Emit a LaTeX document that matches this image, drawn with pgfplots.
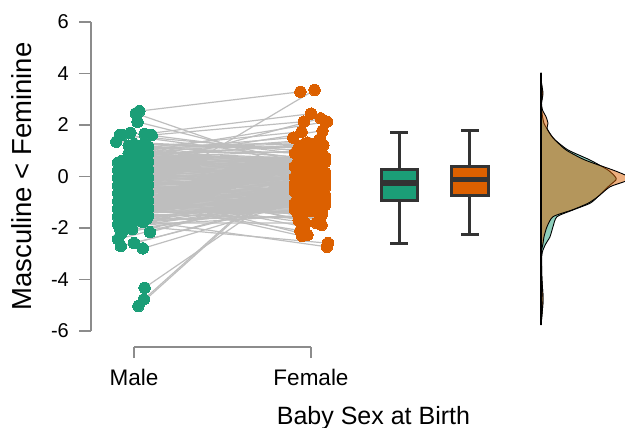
\documentclass[border=0pt]{standalone}
\usepackage{fontspec}
\setmainfont{Liberation Sans}
\usepackage{pgfplots}
\usepackage{pgfplotstable}
\pgfplotsset{compat=1.18}
\usepgfplotslibrary{statistics}
\definecolor{malecol}{HTML}{1B9E77}
\definecolor{femalecol}{HTML}{DC6000}
\definecolor{linecol}{HTML}{BEBEBE}
\definecolor{boxcol}{HTML}{333333}
\definecolor{spinecol}{HTML}{8C8C8C}

\pgfplotstableread{
xm ym xf yf
1.00 1.26 1.93 1.12
1.05 1.23 2.05 0.11
0.97 1.20 1.97 0.74
1.08 1.17 2.08 -0.18
0.98 1.14 1.91 0.91
1.02 1.11 2.01 0.34
1.03 1.08 2.06 1.17
1.07 1.05 1.95 0.16
0.99 1.02 2.03 0.49
1.04 0.99 1.99 -0.13
1.00 0.96 1.93 0.71
1.05 0.93 2.05 0.94
0.97 0.90 1.97 -0.08
1.08 0.87 2.08 0.56
0.98 0.84 1.91 -0.36
1.02 0.81 2.01 0.73
1.03 0.78 2.06 0.16
1.07 0.75 1.95 0.99
0.99 0.72 2.03 -0.02
1.04 0.69 1.99 0.31
1.00 0.66 1.93 -0.31
1.05 0.63 2.05 0.53
0.93 0.60 1.97 0.76
1.08 0.57 2.08 -0.26
0.91 0.54 1.91 0.38
1.02 0.51 2.01 -0.54
0.95 0.48 2.06 0.54
1.07 0.45 1.95 -0.02
0.99 0.42 2.03 0.81
1.04 0.39 1.99 -0.21
0.93 0.36 1.93 0.13
1.05 0.33 2.05 -0.49
0.97 0.30 1.97 0.35
1.08 0.27 2.08 0.58
0.91 0.24 1.91 -0.44
1.02 0.21 2.01 0.20
0.95 0.18 2.06 -0.72
1.07 0.15 1.95 0.36
0.99 0.12 2.03 -0.20
1.04 0.09 1.99 0.63
0.93 0.06 1.93 -0.39
1.05 0.03 2.05 -0.05
0.97 0.00 1.97 -0.67
1.08 -0.03 2.08 0.16
0.91 -0.06 1.91 0.40
1.02 -0.09 2.01 -0.62
0.95 -0.12 2.06 0.01
1.07 -0.15 1.95 -0.90
0.99 -0.18 2.03 0.18
1.04 -0.21 1.99 -0.39
0.93 -0.24 1.93 0.45
1.05 -0.27 2.05 -0.57
0.97 -0.30 1.97 -0.24
1.08 -0.33 2.08 -0.85
0.91 -0.36 1.91 -0.02
1.02 -0.39 2.01 0.21
0.95 -0.42 2.06 -0.80
1.07 -0.45 1.95 -0.17
0.99 -0.48 2.03 -1.08
1.04 -0.51 1.99 0.00
0.93 -0.54 1.93 -0.57
1.05 -0.57 2.05 0.27
0.97 -0.60 1.97 -0.75
1.08 -0.63 2.08 -0.42
0.91 -0.66 1.91 -1.03
1.02 -0.69 2.01 -0.20
0.95 -0.72 2.06 0.03
1.07 -0.75 1.95 -0.98
0.99 -0.78 2.03 -0.35
1.04 -0.81 1.99 -1.27
0.93 -0.84 1.93 -0.18
1.05 -0.87 2.05 -0.75
0.97 -0.90 1.97 0.09
1.08 -0.93 2.08 -0.93
0.91 -0.96 1.91 -0.60
1.02 -0.99 2.01 -1.22
0.95 -1.02 2.06 -0.38
1.07 -1.05 1.95 -0.15
0.99 -1.08 2.03 -1.16
1.04 -1.11 1.99 -0.53
0.93 -1.14 1.93 -1.45
1.05 -1.17 2.05 -0.36
0.97 -1.20 1.97 -0.93
1.08 -1.23 2.08 -0.10
0.91 -1.26 1.91 -1.11
1.02 -1.29 2.01 -0.78
0.95 -1.32 2.06 -1.40
1.07 -1.35 1.95 -0.56
0.99 -1.38 2.03 -0.33
1.04 -1.41 1.99 -1.35
0.93 -1.44 1.93 -0.71
1.05 -1.47 2.05 -1.63
0.97 -1.50 1.97 -0.55
1.08 -1.53 2.08 -1.11
0.91 -1.56 1.91 -0.28
1.02 -1.59 2.01 -1.30
0.95 -1.62 2.06 -0.96
1.07 -1.65 1.95 -1.58
0.99 -1.68 2.03 -0.74
1.04 -1.71 1.99 -0.51
0.93 -1.74 1.93 -1.53
1.05 -1.77 2.05 -0.89
0.97 -1.80 1.97 -1.81
0.92 -1.83 2.08 -0.73
0.91 -1.86 1.91 -1.29
0.98 -1.89 2.01 -0.46
0.95 -1.92 2.06 -1.48
1.03 2.54 1.94 3.29
1.01 2.45 2.00 0.10
1.02 2.12 1.99 0.45
0.98 1.70 2.08 0.75
0.92 1.61 2.01 0.95
0.935 1.61 1.95 0.70
0.90 1.35 2.03 1.00
1.06 1.65 2.00 2.44
1.10 1.61 1.96 2.13
1.06 -4.32 2.05 0.35
1.056 -4.77 1.97 0.85
1.025 -5.03 1.93 0.55
1.05 -2.79 1.92 -1.00
1.00 -2.59 2.03 -0.70
0.925 -2.70 1.98 -0.90
1.09 -2.16 2.00 -0.50
0.99 -2.05 1.96 -1.10
0.91 -2.43 1.95 -0.60
0.93 -2.20 2.04 -0.80
0.92 -2.02 1.94 -0.95
0.99 -0.85 2.02 3.36
1.04 0.40 2.055 2.26
0.98 0.90 2.09 2.13
1.02 1.10 1.947 1.74
1.03 1.00 1.90 1.51
1.06 0.70 2.065 1.78
1.00 0.90 2.05 1.45
0.99 1.15 1.98 1.32
1.05 1.10 2.02 1.28
1.03 0.85 2.07 1.22
1.07 0.80 1.96 1.25
0.98 -1.90 2.096 -2.59
1.02 -1.70 2.09 -2.73
0.96 -0.80 1.95 -2.31
1.01 -0.60 1.98 -2.27
1.06 -0.90 2.06 -1.88
0.94 -1.00 1.94 -2.10
1.03 -0.70 1.96 -1.95
1.00 -0.30 2.03 -1.80
0.96 -0.10 1.93 -1.70
1.06 -0.50 2.05 -1.65
1.00 0.80 2.00 0.72
1.03 0.76 1.98 0.68
0.98 0.72 2.03 0.64
1.05 0.68 1.96 0.60
1.01 0.64 2.01 0.56
0.96 0.60 2.05 0.53
1.04 0.56 1.97 0.49
0.99 0.52 2.02 0.45
1.02 0.48 1.99 0.41
0.97 0.44 2.04 0.37
1.06 0.40 1.95 0.33
1.00 0.36 2.00 0.29
1.03 0.32 1.98 0.25
0.98 0.28 2.03 0.21
1.05 0.24 1.96 0.17
1.01 0.20 2.01 0.13
0.96 0.16 2.05 0.09
1.04 0.12 1.97 0.05
0.99 0.08 2.02 0.01
1.02 0.04 1.99 -0.03
0.97 0.00 2.04 -0.07
1.06 -0.04 1.95 -0.11
1.00 -0.08 2.00 -0.15
1.03 -0.12 1.98 -0.19
0.98 -0.16 2.03 -0.23
1.05 -0.20 1.96 -0.27
1.01 -0.24 2.01 -0.31
0.96 -0.28 2.05 -0.35
1.04 -0.32 1.97 -0.39
0.99 -0.36 2.02 -0.43
1.02 -0.40 1.99 -0.47
0.97 -0.44 2.04 -0.51
1.06 -0.48 1.95 -0.55
1.00 -0.52 2.00 -0.59
1.03 -0.56 1.98 -0.63
0.98 -0.60 2.03 -0.67
1.05 -0.64 1.96 -0.71
1.01 -0.68 2.01 -0.75
0.96 -0.72 2.05 -0.79
1.04 -0.76 1.97 -0.83
0.99 -0.80 2.02 -0.87
1.02 -0.84 1.99 -0.91
0.97 -0.88 2.04 -0.95
1.06 -0.92 1.95 -0.99
1.00 -0.96 2.00 -1.03
1.03 -1.00 1.98 -1.07
0.98 -1.04 2.03 -1.11
1.05 -1.08 1.96 -1.15
1.01 -1.12 2.01 -1.19
0.96 -1.16 2.05 -1.23
1.04 -1.20 1.97 -1.27
0.99 -1.24 2.02 -1.31
1.02 -1.28 1.99 -1.35
0.97 -1.32 2.04 -1.39
1.06 -1.36 1.95 -1.43
}\pairs

\pgfplotstableread{
d y
0 4.03
0.5 3.62
1.5 3.23
0.4 2.84
0.8 2.58
1.5 2.32
3 2.06
5.7 1.87
9.7 1.61
14 1.42
27 1.03
49 0.64
67 0.25
74 0.00
75 -0.13
67 -0.40
57 -0.78
49 -1.04
32 -1.30
16 -1.56
12 -1.95
9 -2.34
5 -2.60
2 -2.85
0.7 -3.11
0.8 -3.90
2 -4.80
0 -5.77
}\densmale

\pgfplotstableread{
d y
0 4.03
0.5 3.62
2 3.23
0.5 2.84
1.5 2.58
5 2.32
7 2.06
6 1.87
10 1.61
14 1.42
25 1.03
44 0.64
72 0.25
84 0.06
88 -0.06
84 -0.19
69 -0.40
57 -0.78
47 -1.04
31 -1.30
12 -1.56
6 -1.95
3 -2.34
2 -2.60
0.7 -2.85
0.4 -3.11
0.8 -3.90
2 -4.80
0 -5.77
}\densfemale

\begin{document}
\begin{tikzpicture}[x=1bp,y=1bp]
\useasboundingbox (0,0) rectangle (625,427);

% whole canvas: paired points and the two box plots
\begin{axis}[
  at={(0,0)}, anchor=south west,
  scale only axis, width=625bp, height=427bp,
  xmin=0.243, xmax=3.774, ymin=-9.728, ymax=6.854,
  hide axis, clip=true,
  boxplot/draw direction=y,
]
\addplot[linecol, line width=1.2bp, mark=none,
  quiver={u=\thisrow{xf}-\thisrow{xm}, v=\thisrow{yf}-\thisrow{ym}}]
  table[x=xm,y=ym] {\pairs};
\addplot[only marks, mark=*, mark size=5.7bp, mark options={draw=malecol,fill=malecol,line width=0pt}]
  table[x=xm,y=ym] {\pairs};
\addplot[only marks, mark=*, mark size=5.7bp, mark options={draw=femalecol,fill=femalecol,line width=0pt}]
  table[x=xf,y=yf] {\pairs};

\addplot[draw=boxcol, fill=malecol, line width=3bp,
  boxplot/box extend=0.205, boxplot/whisker extend=0.1,
  boxplot/every median/.style={line width=5.5bp},
  boxplot prepared={draw position=2.499, lower whisker=-2.62, lower quartile=-0.92,
    median=-0.26, upper quartile=0.28, upper whisker=1.70}] coordinates {};
\addplot[draw=boxcol, fill=femalecol, line width=3bp,
  boxplot/box extend=0.205, boxplot/whisker extend=0.1,
  boxplot/every median/.style={line width=5.5bp},
  boxplot prepared={draw position=2.898, lower whisker=-2.26, lower quartile=-0.73,
    median=-0.11, upper quartile=0.37, upper whisker=1.79}] coordinates {};
\end{axis}

% half violins
\begin{axis}[
  at={(539bp,0)}, anchor=south west,
  scale only axis, width=86bp, height=427bp,
  xmin=-2, xmax=84, ymin=-9.728, ymax=6.854,
  hide axis, clip=true,
]
\addplot[draw=black, line width=0.9bp, fill=malecol, fill opacity=0.5, smooth, tension=0.4] table[x=d,y=y] {\densmale} -- cycle;
\addplot[draw=black, line width=0.9bp, fill=femalecol, fill opacity=0.5, smooth, tension=0.4] table[x=d,y=y] {\densfemale} -- cycle;
\addplot[black, line width=1.4bp] coordinates {(0,4.03) (0,-5.77)};
\end{axis}

% y axis
\begin{axis}[
  at={(91bp,96bp)}, anchor=south west,
  scale only axis, width=10bp, height=309bp,
  xmin=0, xmax=1, ymin=-6, ymax=6,
  axis x line=none, axis y line=left,
  axis line style={-, spinecol, line width=1.2bp},
  ytick={-6,-4,-2,0,2,4,6},
  tick align=outside, major tick length=12bp,
  tick style={spinecol, line width=1.2bp},
  yticklabel style={/pgf/number format/assume math mode=true, font=\fontsize{20bp}{22bp}\selectfont, text=black, inner sep=0pt, xshift=-10bp},
  ylabel={Masculine < Feminine},
  ylabel style={font=\fontsize{27.5bp}{30bp}\selectfont, at={(axis description cs:-6.9,0.5)}, anchor=center},
]
\end{axis}

% x axis
\begin{axis}[
  at={(134bp,80bp)}, anchor=south west,
  scale only axis, width=177bp, height=5bp,
  xmin=1, xmax=2, ymin=0, ymax=1,
  axis y line=none, axis x line=bottom,
  axis line style={-, spinecol, line width=1.2bp},
  xtick={1,2}, xticklabels={Male,Female},
  tick align=outside, major tick length=11bp,
  tick style={spinecol, line width=1.2bp},
  xticklabel style={font=\fontsize{22.5bp}{24bp}\selectfont, text=black, anchor=base, yshift=-27bp, inner sep=0pt},
  xlabel={Baby Sex at Birth},
  xlabel style={font=\fontsize{25bp}{27bp}\selectfont, at={(axis description cs:1.353,0)}, anchor=base, yshift=-77bp},
]
\end{axis}
\end{tikzpicture}
\end{document}
